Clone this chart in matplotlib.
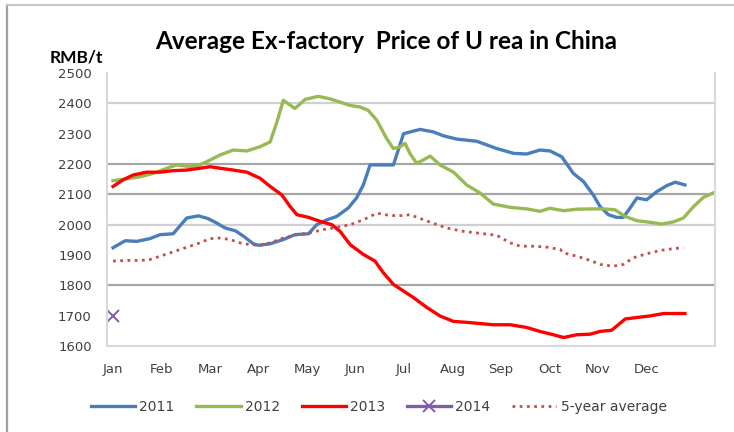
import matplotlib
matplotlib.use('Agg')
import matplotlib.pyplot as plt
from matplotlib.lines import Line2D

plt.rcParams['font.family'] = ['DejaVu Sans']

months = ['Jan', 'Feb', 'Mar', 'Apr', 'May', 'Jun', 'Jul', 'Aug', 'Sep', 'Oct', 'Nov', 'Dec']

# positions are in months from Jan (0 = Jan label)
x2011 = [0.0, 0.25, 0.49, 0.76, 0.97, 1.24, 1.52, 1.76, 1.96, 2.14, 2.31, 2.52, 2.69, 2.89, 3.00,
         3.24, 3.51, 3.75, 4.03, 4.20, 4.41, 4.61, 4.85, 5.02, 5.16, 5.30, 5.78, 5.99,
         6.33, 6.60, 6.81, 7.09, 7.50, 7.91, 8.26, 8.53, 8.80, 9.01, 9.25, 9.49, 9.70, 9.90,
         10.04, 10.21, 10.38, 10.52, 10.66, 10.80, 11.00, 11.21, 11.42, 11.59, 11.79]
y2011 = [1924, 1947, 1945, 1954, 1967, 1970, 2022, 2029, 2020, 2005, 1989, 1980, 1962, 1937, 1932,
         1937, 1951, 1967, 1970, 2000, 2016, 2027, 2055, 2088, 2131, 2197, 2197, 2300,
         2314, 2306, 2293, 2282, 2275, 2251, 2235, 2233, 2246, 2243, 2224, 2169, 2142, 2098,
         2060, 2033, 2024, 2024, 2055, 2088, 2082, 2109, 2129, 2140, 2131]

x2012 = [0.0, 0.28, 0.56, 0.83, 1.11, 1.31, 1.59, 1.79, 2.00, 2.21, 2.48, 2.76, 3.03,
         3.24, 3.38, 3.51, 3.75, 3.96, 4.23, 4.47, 4.68, 4.89, 5.09, 5.26, 5.44, 5.64, 5.78,
         5.92, 6.02, 6.12, 6.26, 6.54, 6.74, 7.02, 7.29, 7.57, 7.84, 8.19, 8.53, 8.80, 9.01,
         9.29, 9.56, 9.84, 10.11, 10.35, 10.56, 10.80, 11.07, 11.31, 11.55, 11.76, 11.97,
         12.17, 12.38]
y2012 = [2145, 2151, 2158, 2169, 2186, 2197, 2191, 2197, 2213, 2230, 2246, 2243, 2257,
         2273, 2339, 2410, 2383, 2413, 2423, 2415, 2404, 2393, 2388, 2377, 2344, 2284, 2251,
         2257, 2268, 2235, 2202, 2226, 2197, 2173, 2131, 2104, 2068, 2057, 2052, 2044, 2054,
         2046, 2051, 2052, 2052, 2049, 2027, 2013, 2008, 2002, 2009, 2022, 2060,
         2090, 2105]

x2013 = [0.0, 0.21, 0.42, 0.69, 0.97, 1.24, 1.52, 1.79, 2.00, 2.21, 2.48, 2.76, 3.03,
         3.24, 3.48, 3.65, 3.79, 4.03, 4.27, 4.51, 4.68, 4.89, 5.16, 5.40, 5.57, 5.78, 5.99,
         6.19, 6.47, 6.74, 7.02, 7.29, 7.57, 7.84, 8.19, 8.53, 8.80, 9.08, 9.29, 9.56, 9.84,
         10.04, 10.28, 10.56, 10.80, 11.07, 11.35, 11.55, 11.79]
y2013 = [2126, 2148, 2164, 2173, 2173, 2178, 2180, 2186, 2191, 2186, 2180, 2173, 2153,
         2126, 2098, 2060, 2033, 2024, 2011, 2000, 1978, 1934, 1902, 1880, 1842, 1803, 1781,
         1760, 1727, 1699, 1681, 1678, 1674, 1670, 1670, 1661, 1648, 1637, 1628, 1637, 1639,
         1648, 1652, 1689, 1694, 1699, 1707, 1707, 1707]

x2014 = [0.0]
y2014 = [1700]

xavg = [0.0, 0.28, 0.56, 0.76, 0.97, 1.18, 1.38, 1.59, 1.79, 2.00, 2.21, 2.41, 2.62, 2.82, 3.03,
        3.24, 3.51, 3.79, 4.06, 4.34, 4.61, 4.89, 5.16, 5.44, 5.71, 5.99, 6.12,
        6.54, 6.88, 7.22, 7.64, 7.91, 8.19, 8.39, 8.67, 8.94, 9.22, 9.29, 9.56, 9.84,
        10.04, 10.31, 10.52, 10.73, 11.00, 11.28, 11.55, 11.76]
yavg = [1880, 1882, 1882, 1885, 1896, 1907, 1918, 1929, 1940, 1954, 1956, 1951, 1940, 1934, 1932,
        1940, 1956, 1967, 1973, 1984, 1991, 2000, 2016, 2038, 2030, 2030, 2033,
        2008, 1989, 1978, 1970, 1965, 1940, 1929, 1929, 1926, 1918, 1907, 1896, 1882,
        1869, 1863, 1869, 1891, 1904, 1915, 1921, 1924]

yticks = [1600, 1700, 1800, 1900, 2000, 2100, 2200, 2300, 2400, 2500]

fig = plt.figure(figsize=(7.34, 4.32), dpi=100)
ax = fig.add_axes([0.1458, 0.1991, 0.8283, 0.6319])

# grid lines (only some show in the original)
for g, c in [(2400, '#d0d0d0'), (2200, '#a6a6a6'), (2100, '#a6a6a6'), (2000, '#d0d0d0'), (1800, '#a6a6a6')]:
    ax.axhline(g, color=c, lw=1.6, zorder=0)

ax.plot(x2011, y2011, color='#4a7ebb', lw=2.4, label='2011')
ax.plot(x2012, y2012, color='#98b954', lw=2.4, label='2012')
ax.plot(x2013, y2013, color='#ff0000', lw=2.4, label='2013')
ax.plot(x2014, y2014, color='#7e5ca8', lw=2.4, marker='x', ms=8, mew=1.4, label='2014')
ax.plot(xavg, yavg, color='#c0504d', lw=2, ls=(0, (1, 1.6)), label='5-year average')

ax.set_xlim(-0.124, 12.41)
ax.set_ylim(1600, 2500)
ax.set_yticks(yticks)
ax.set_xticks(range(12))
ax.set_xticklabels(months)
ax.tick_params(axis='both', length=0, labelsize=9.5, colors='#404040')
ax.tick_params(axis='y', pad=11)
ax.tick_params(axis='x', pad=12)
for s in ['left', 'right', 'bottom']:
    ax.spines[s].set_color('#d9d9d9')
    ax.spines[s].set_linewidth(1.5)
ax.spines['top'].set_visible(False)

fig.text(0.526, 0.905, 'Average Ex-factory  Price of U rea in China', ha='center', va='center',
         fontsize=17.5, fontweight='bold', family='Lato')
fig.text(0.104, 0.868, 'RMB/t', ha='center', va='center', fontsize=12.5, fontweight='bold', family='Lato')

fig.legend(loc='center', bbox_to_anchor=(0.516, 0.058), ncol=5, frameon=False, fontsize=10,
           handlelength=3.2, handletextpad=0.3, columnspacing=1.55, labelcolor='#404040')

# outer chart frame
fig.add_artist(Line2D([7 / 734, 7 / 734], [0, 1 - 5 / 432], transform=fig.transFigure, color='#a0a0a0', lw=1.6))
fig.add_artist(Line2D([7 / 734, 1], [1 - 5 / 432, 1 - 5 / 432], transform=fig.transFigure, color='#c8c8c8', lw=1.6))

fig.savefig('out.png', dpi=100)
